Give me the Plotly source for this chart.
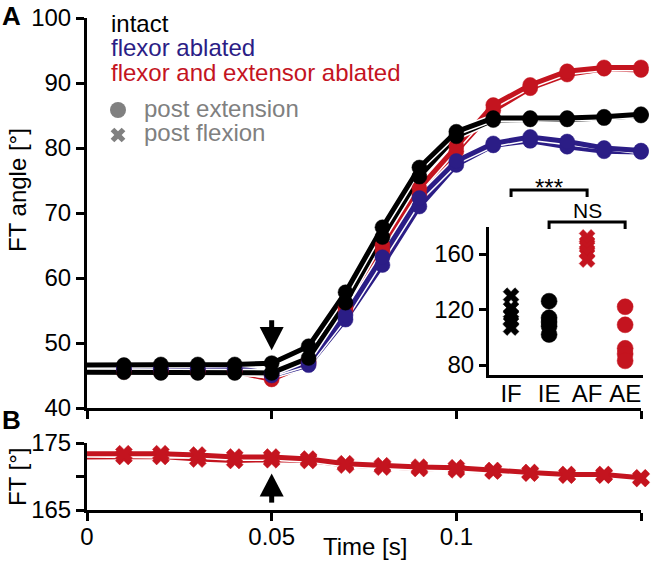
import plotly.graph_objects as go

W, H = 660, 562

# ---------------- data ----------------
time_s = [0.00, 0.01, 0.02, 0.03, 0.04, 0.05, 0.06, 0.07, 0.08, 0.09, 0.10, 0.11, 0.12, 0.13, 0.14, 0.15]

intact_ext = [46.6, 46.6, 46.7, 46.7, 46.7, 46.9, 49.5, 57.8, 67.8, 77.0, 82.5, 84.6, 84.6, 84.6, 84.8, 85.2]
intact_flex = [45.5, 45.5, 45.4, 45.4, 45.4, 45.4, 47.7, 56.2, 66.3, 75.6, 81.8, 84.3, 84.4, 84.4, 84.6, 85.0]
flexabl_ext = [46.1, 46.1, 46.1, 46.1, 46.1, 45.3, 47.0, 54.3, 63.2, 72.3, 78.0, 80.7, 81.7, 81.0, 80.0, 79.6]
flexabl_flex = [45.9, 45.9, 45.9, 45.9, 45.9, 45.0, 46.6, 53.6, 62.0, 71.0, 77.4, 80.4, 81.1, 80.2, 79.5, 79.4]
bothabl_ext = [45.8, 45.8, 45.8, 45.8, 45.8, 45.0, 47.2, 55.5, 65.0, 73.8, 80.3, 86.6, 89.7, 91.8, 92.4, 92.4]
bothabl_flex = [45.6, 45.6, 45.6, 45.6, 45.6, 44.4, 46.8, 55.0, 64.2, 72.8, 79.5, 85.8, 89.2, 91.3, 92.2, 92.0]

ft_a = [173.4, 173.4, 173.4, 173.2, 172.9, 172.9, 172.6, 171.9, 171.6, 171.4, 171.3, 170.9, 170.6, 170.3, 170.3, 169.8]
ft_b = [172.9, 173.0, 173.0, 172.6, 172.4, 172.5, 172.4, 171.7, 171.4, 171.2, 171.0, 170.8, 170.5, 170.2, 170.2, 169.7]

inset_cats = ["IF", "IE", "AF", "AE"]
inset_IF = [130, 121, 116, 112, 107]
inset_IE = [126, 114, 111, 108, 102]
inset_AF = [172, 168, 165, 161, 156]
inset_AE = [122, 109, 92, 88, 83]

stim_time = 0.05

# ---------------- style ----------------
BLACK = "#000000"
BLUE = "#2b1d86"
RED = "#c4141f"
GRAY = "#808080"
FONT = "Liberation Sans, Arial, sans-serif"
TICKF = 24

def px(x):
    return x / W

def py(y):
    return 1 - y / H

XDOM = [px(87), px(641)]

fig = go.Figure()

msize = [0] + [15] * (len(time_s) - 1)
xsize = [0] + [15] * (len(time_s) - 1)

series_A = [(bothabl_flex, RED), (bothabl_ext, RED),
            (flexabl_flex, BLUE), (flexabl_ext, BLUE),
            (intact_flex, BLACK), (intact_ext, BLACK)]
series_B = [(ft_b, RED), (ft_a, RED)]

def add_lines(y, color, xa, ya):
    fig.add_trace(go.Scatter(x=time_s, y=y, mode="lines", xaxis=xa, yaxis=ya,
                             line=dict(color="white", width=8), hoverinfo="skip",
                             cliponaxis=False, showlegend=False))
    fig.add_trace(go.Scatter(x=time_s, y=y, mode="lines", xaxis=xa, yaxis=ya,
                             line=dict(color=color, width=5),
                             cliponaxis=False, showlegend=False))

def add_markers(y, color, xa, ya, symbol, size):
    fig.add_trace(go.Scatter(x=time_s, y=y, mode="markers", xaxis=xa, yaxis=ya,
                             marker=dict(symbol=symbol, size=size, color=color, opacity=1,
                                         line=dict(width=0.5, color=color)),
                             cliponaxis=False, showlegend=False))

for yv, c in series_A:
    add_lines(yv, c, "x", "y")
for yv, c in series_A:
    add_markers(yv, c, "x", "y", "circle", msize)

for yv, c in series_B:
    add_lines(yv, c, "x2", "y2")
for yv, c in series_B:
    add_markers(yv, c, "x2", "y2", "x", xsize)

# inset
for xi, vals, col, sym, sz in [(0, inset_IF, BLACK, "x", 14), (1, inset_IE, BLACK, "circle", 16),
                               (2, inset_AF, RED, "x", 14), (3, inset_AE, RED, "circle", 16)]:
    fig.add_trace(go.Scatter(x=[xi] * len(vals), y=vals, mode="markers", xaxis="x3", yaxis="y3",
                             marker=dict(symbol=sym, size=sz, color=col, line=dict(width=0.5, color=col)),
                             cliponaxis=False, showlegend=False))

# legend symbols on a pixel overlay axis
fig.add_trace(go.Scatter(x=[118], y=[110], mode="markers", xaxis="x4", yaxis="y4",
                         marker=dict(symbol="circle", size=16, color=GRAY), showlegend=False,
                         cliponaxis=False))
fig.add_trace(go.Scatter(x=[118], y=[135], mode="markers", xaxis="x4", yaxis="y4",
                         marker=dict(symbol="x", size=13, color=GRAY, line=dict(width=0)),
                         showlegend=False, cliponaxis=False))

axis_common = dict(showline=True, linecolor="black", linewidth=3, ticks="outside",
                   ticklen=8, tickwidth=3, tickcolor="black", showgrid=False, zeroline=False,
                   automargin=False,
                   tickfont=dict(family=FONT, size=TICKF, color="black"))

fig.update_layout(
    width=W, height=H, margin=dict(l=0, r=0, t=0, b=0, pad=0),
    paper_bgcolor="white", plot_bgcolor="rgba(0,0,0,0)",
    font=dict(family=FONT, color="black"),
    xaxis=dict(domain=XDOM, range=[0, 0.15], anchor="y", tickvals=[0, 0.05, 0.1, 0.15],
               showticklabels=False, **axis_common),
    yaxis=dict(domain=[py(408), py(18)], range=[40, 100], anchor="x",
               tickvals=[40, 50, 60, 70, 80, 90, 100], **axis_common),
    xaxis2=dict(domain=XDOM, range=[0, 0.15], anchor="y2", tickvals=[0, 0.05, 0.1, 0.15],
                ticktext=["0", "0.05", "0.1", "0.15"], ticklabelstandoff=-5, **axis_common),
    yaxis2=dict(domain=[py(510), py(443)], range=[165, 175], anchor="x2",
                tickvals=[165, 170, 175], ticktext=["165", "", "175"], **axis_common),
    xaxis3=dict(domain=[px(489), px(643)], range=[-0.58, 3.47], anchor="y3",
                tickvals=[0, 1, 2, 3], ticktext=inset_cats, ticklabelstandoff=-5,
                **{**axis_common, "ticks": ""}),
    yaxis3=dict(domain=[py(375), py(227)], range=[72.8, 179.5], anchor="x3",
                tickvals=[80, 120, 160], **{**axis_common, "ticklen": 7}),
    xaxis4=dict(domain=[0, 1], range=[0, W], anchor="y4", visible=False, fixedrange=True,
                automargin=False),
    yaxis4=dict(domain=[0, 1], range=[H, 0], anchor="x4", visible=False, fixedrange=True,
                automargin=False),
)

# stimulus arrows
hw = 0.00325
shapes = []
shapes.append(dict(type="path", xref="x", yref="y",
                   path=f"M {stim_time - hw},52.46 L {stim_time + hw},52.46 L {stim_time},48.9 Z",
                   fillcolor="black", line=dict(width=0)))
shapes.append(dict(type="line", xref="x", yref="y", x0=stim_time, x1=stim_time, y0=53.5, y1=52.3,
                   line=dict(color="black", width=5)))
shapes.append(dict(type="path", xref="x2", yref="y2",
                   path=f"M {stim_time - hw},167.0 L {stim_time + hw},167.0 L {stim_time},170.45 Z",
                   fillcolor="black", line=dict(width=0)))
shapes.append(dict(type="line", xref="x2", yref="y2", x0=stim_time, x1=stim_time, y0=167.1, y1=166.1,
                   line=dict(color="black", width=5)))

def cat_px(c):
    x0, x1 = 489, 643
    r0, r1 = -0.58, 3.47
    return x0 + (c - r0) / (r1 - r0) * (x1 - x0)

def bracket(c0, c1, ypix, label, lab_y, size):
    xa, xb = cat_px(c0), cat_px(c1)
    shapes.append(dict(type="path", xref="paper", yref="paper",
                       path=f"M {px(xa)},{py(ypix + 7)} L {px(xa)},{py(ypix)} L {px(xb)},{py(ypix)} L {px(xb)},{py(ypix + 7)}",
                       line=dict(color="black", width=3)))
    fig.add_annotation(x=px((xa + xb) / 2), y=py(lab_y), xref="paper", yref="paper", text=label,
                       showarrow=False, xanchor="center", yanchor="middle",
                       font=dict(family=FONT, size=size, color="black"))

bracket(0, 2, 190, "***", 187, 24)
bracket(1, 3, 222, "NS", 210, 21)

fig.update_layout(shapes=shapes)

def txt(x, y, s, color="black", size=22, xanchor="left", yanchor="middle", bold=False, angle=0):
    fig.add_annotation(x=px(x), y=py(y), xref="paper", yref="paper", text=(f"<b>{s}</b>" if bold else s),
                       showarrow=False, xanchor=xanchor, yanchor=yanchor, textangle=angle,
                       font=dict(family=FONT, size=size, color=color))

txt(109, 23, "intact", BLACK, 24)
txt(109, 47, "flexor ablated", BLUE, 24)
txt(109, 72, "flexor and extensor ablated", RED, 24)
txt(142, 108, "post extension", GRAY, 24)
txt(142, 133, "post flexion", GRAY, 24)

txt(0, 16, "A", "black", 26, bold=True)
txt(0, 420, "B", "black", 26, bold=True)

txt(17, 190, "FT angle [°]", "black", 24, xanchor="center", angle=-90)
txt(17, 477, "FT [°]", "black", 24, xanchor="center", angle=-90)
txt(365, 562, "Time [s]", "black", 24, xanchor="center", yanchor="bottom")

fig.write_html("out.html", config={"displayModeBar": False},
               post_script="document.body.style.margin='0px';document.body.style.padding='0px';")
